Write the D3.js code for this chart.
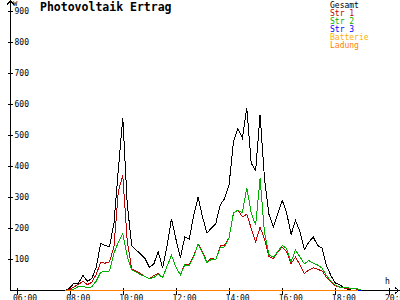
<!DOCTYPE html>
<html>
<head>
<meta charset="utf-8">
<script src="https://cdn.jsdelivr.net/npm/d3@7"></script>
<style>
  body { margin: 0; background: #fff; }
  svg { display: block; }
  text { font-family: "DejaVu Sans Mono", monospace; }
</style>
</head>
<body>
<svg id="drawing_region"></svg>
<script>
// time stamps (10 minute steps)
const times = ['07:50','08:00','08:10','08:20','08:30','08:40','08:50','09:00','09:10','09:20','09:30','09:40','09:50',
  '10:00','10:10','10:20','10:30','10:40','10:50','11:00','11:10','11:20','11:30','11:40','11:50',
  '12:00','12:10','12:20','12:30','12:40','12:50','13:00','13:10','13:20','13:30','13:40','13:50',
  '14:00','14:10','14:20','14:30','14:40','14:50','15:00','15:10','15:20','15:30','15:40','15:50',
  '16:00','16:10','16:20','16:30','16:40','16:50','17:00','17:10','17:20','17:30','17:40','17:50',
  '18:00','18:10','18:20','18:30','18:40','18:50','19:00'];

const gesamt = [0,8,24,24,48,30,38,75,151,144,142,215,390,
  555,280,145,130,118,103,75,85,125,72,145,231,
  165,105,172,165,240,300,237,185,200,215,275,296,
  340,480,520,490,586,409,385,565,360,245,205,247,
  290,250,180,225,190,131,155,172,145,136,80,48,
  24,18,9,3,0,0,0];

const str1 = [0,3,12,20,29,19,26,52,90,88,92,140,320,
  370,160,70,63,54,45,38,48,55,42,78,113,
  75,50,84,82,110,150,124,92,103,100,143,146,
  170,250,258,237,245,200,156,204,165,110,102,124,
  140,125,86,108,82,55,66,73,68,63,42,27,
  15,10,8,7,6,4,0];

const str2 = [0,0,5,13,13,9,12,30,59,61,63,120,155,
  183,110,66,60,51,45,38,42,52,42,78,113,
  75,50,82,80,108,150,120,90,100,100,138,140,
  170,250,258,250,330,250,210,360,185,115,107,125,
  145,135,92,130,108,86,96,88,82,72,48,30,
  17,11,9,8,7,5,0];

const str3 = times.map(() => 0);
const batterie = times.map(() => 0);
const ladung = times.map(() => 0);

const seriesNames = ['Gesamt', 'Str 1', 'Str 2', 'Str 3', 'Batterie', 'Ladung'];
const seriesColors = ['#000000', '#c00000', '#00b000', '#0000ff', '#ffb000', '#ff8000'];
const seriesValues = [gesamt, str1, str2, str3, batterie, ladung];

const xTicks = [6, 8, 10, 12, 14, 16, 18, 20];
const yTicks = [100, 200, 300, 400, 500, 600, 700, 800, 900];

const width = 400, height = 300;
const hour = s => { const p = s.split(':'); return +p[0] + p[1] / 60; };
const pad = n => String(n).padStart(2, '0');

const svg = d3.select('#drawing_region')
    .attr('width', width)
    .attr('height', height);

svg.append('rect').attr('width', width).attr('height', height).attr('fill', '#fff');

const x = d3.scaleLinear().domain([6, 20]).range([16, 388]);
const y = d3.scaleLinear().domain([0, 900]).range([290, 10]);

// axes lines with arrows
const axisCol = '#000';
svg.append('path')
    .attr('d', `M10.5,${y(0) + 0.5}H399 M395,287.5L399,${y(0) + 0.5}L395,293.5`)
    .attr('fill', 'none').attr('stroke', axisCol).attr('shape-rendering', 'crispEdges');
svg.append('path')
    .attr('d', `M10.5,${y(0) + 0.5}V1 M7,4.5L10.5,1L14,4.5`)
    .attr('fill', 'none').attr('stroke', axisCol).attr('shape-rendering', 'crispEdges');

// x axis
const xaxis = d3.axisBottom(x).tickValues(xTicks).tickFormat(d => pad(d) + ':00').tickSizeOuter(0);
const xg = svg.append('g').attr('transform', `translate(0.5, ${y(0) + 0.5})`).call(xaxis);
xg.select('.domain').remove();
xg.selectAll('.tick line').attr('y1', -3).attr('y2', 4).attr('stroke', axisCol).attr('shape-rendering', 'crispEdges');
xg.selectAll('.tick text')
    .attr('y', 10).attr('dy', 0).attr('x', -4)
    .attr('text-anchor', 'start')
    .attr('font-family', 'DejaVu Sans Mono').attr('font-size', 8).attr('fill', '#000');

// y axis
const yaxis = d3.axisLeft(y).tickValues(yTicks).tickSizeOuter(0);
const yg = svg.append('g').attr('transform', `translate(10.5, 0.5)`).call(yaxis);
yg.select('.domain').remove();
yg.selectAll('.tick line').attr('x1', -3).attr('x2', 2).attr('stroke', axisCol).attr('shape-rendering', 'crispEdges');
yg.selectAll('.tick text')
    .attr('x', 4).attr('dy', 2.5)
    .attr('text-anchor', 'start')
    .attr('font-family', 'DejaVu Sans Mono').attr('font-size', 8).attr('fill', '#000');

// unit labels
svg.append('text').attr('x', 13).attr('y', 6).attr('font-size', 7).text('W');
svg.append('text').attr('x', 385).attr('y', 284).attr('font-size', 8).text('h');

// title
svg.append('text')
    .attr('x', 40).attr('y', 11)
    .attr('font-size', 11.5).attr('font-weight', 'bold')
    .text('Photovoltaik Ertrag');

// series lines
const line = d3.line()
    .x(d => x(d.t))
    .y(d => y(d.v));

seriesValues.forEach((vals, i) => {
    const data = times.map((t, j) => ({ t: hour(t), v: vals[j] }));
    const d = i >= 4 ? data.slice(0, data.length - 1) : data;
    svg.append('path')
        .datum(d)
        .attr('transform', 'translate(0.5, 0.5)')
        .attr('fill', 'none')
        .attr('stroke', seriesColors[i])
        .attr('stroke-width', 1)
        .attr('shape-rendering', 'crispEdges')
        .attr('d', line);
});

// legend
svg.append('g').selectAll('text')
    .data(seriesNames)
    .join('text')
    .attr('x', 330)
    .attr('y', (d, i) => 7.5 + i * 8)
    .attr('font-size', 8)
    .attr('fill', (d, i) => seriesColors[i])
    .text(d => d);
</script>
</body>
</html>
